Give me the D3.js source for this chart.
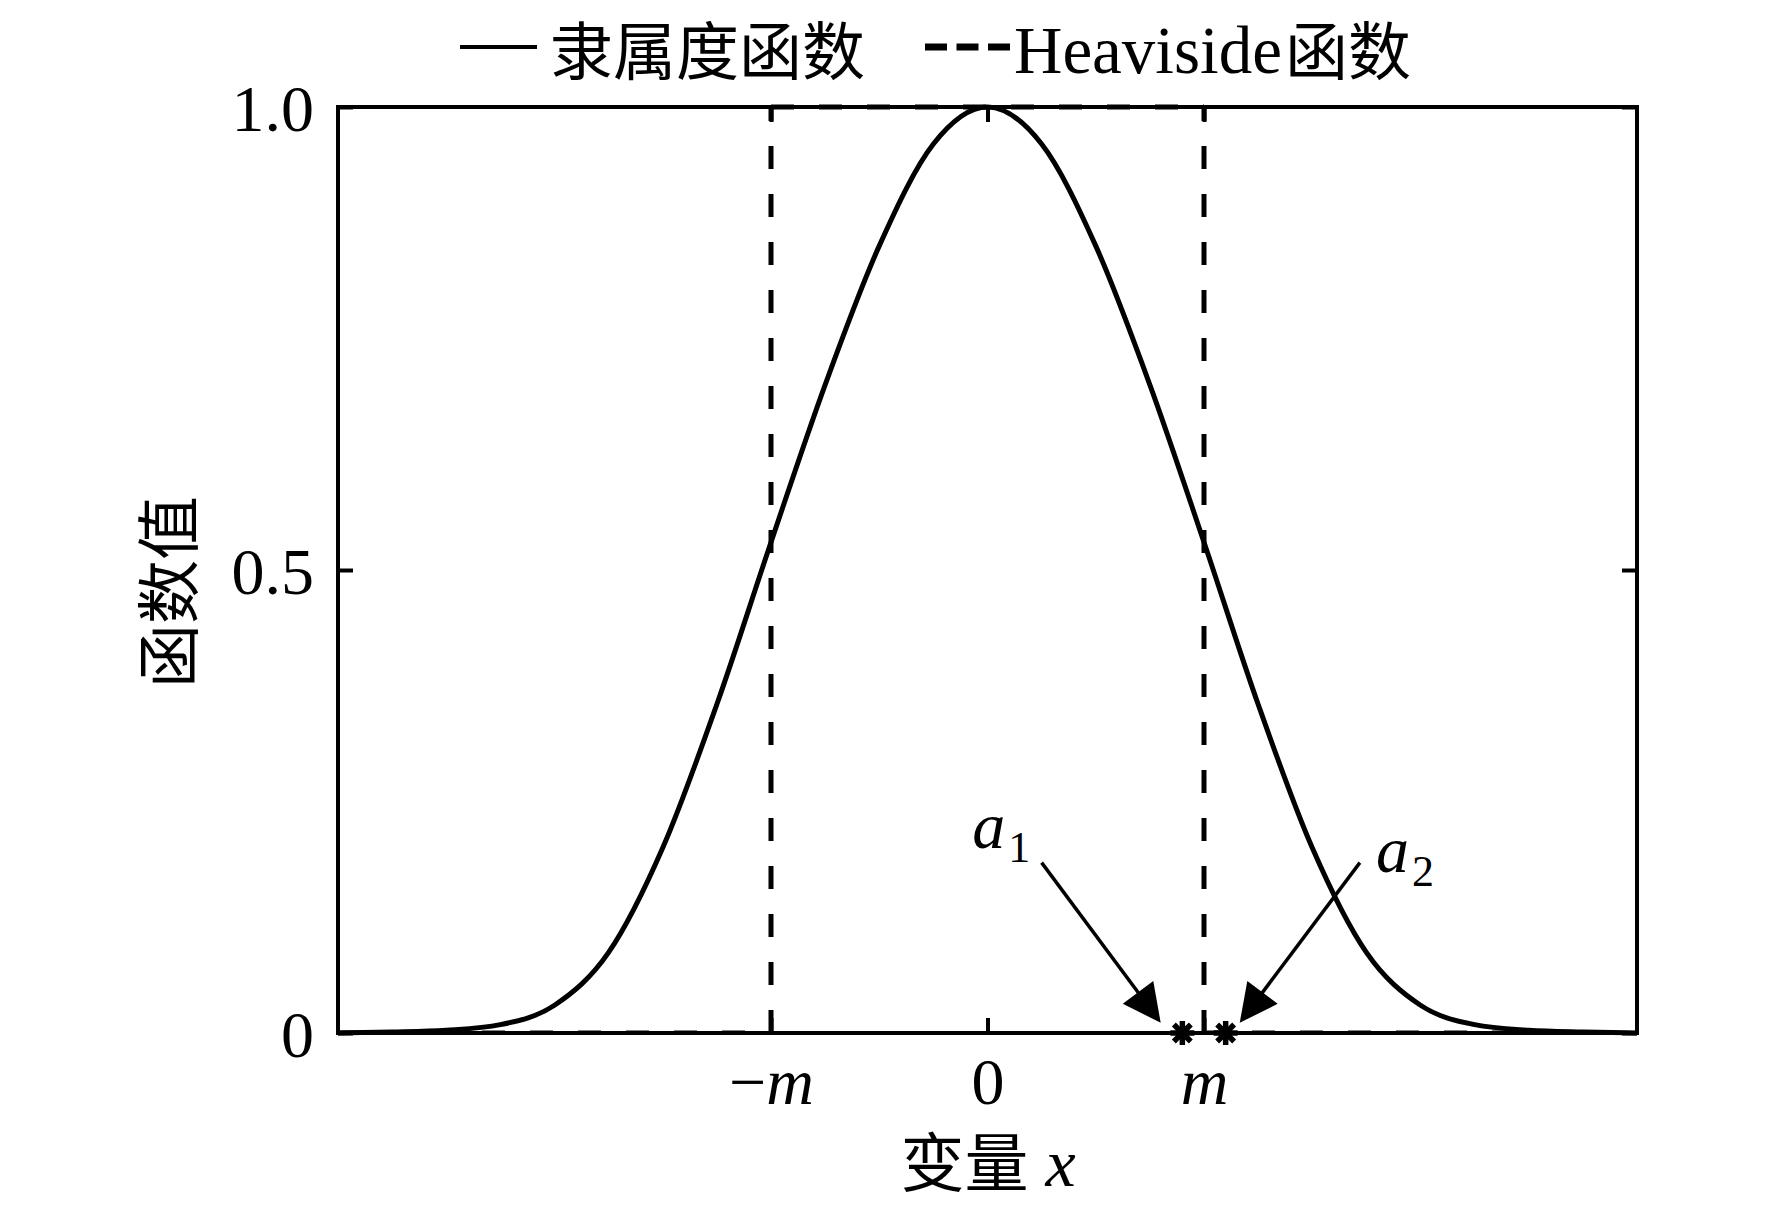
<html>
<head>
<meta charset="utf-8">
<style>
  body { margin:0; background:#fff; }
  .lat { font-family:"Liberation Serif","Times New Roman",serif; }
  .cjk { font-family:"Noto Sans CJK SC",sans-serif; }
</style>
<script src="https://cdn.jsdelivr.net/npm/d3@7"></script>
</head>
<body>
<script>
var width = 1772, height = 1205;

// membership curve (x in units of m)
var xs   = [-3,-2.75,-2.5,-2.25,-2,-1.75,-1.5,-1.25,-1,-0.75,-0.5,-0.25,0,0.25,0.5,0.75,1,1.25,1.5,1.75,2,2.25,2.5,2.75,3];
var memb = [0,0.001,0.003,0.009,0.03,0.087,0.2,0.355,0.53,0.7,0.85,0.96,1,0.96,0.85,0.7,0.53,0.355,0.2,0.087,0.03,0.009,0.003,0.001,0];
// heaviside step
var heavX = [-3,-1,-1,1,1,3];
var heavY = [0,0,1,1,0,0];
// points a1, a2 and their arrows
var ptNames = ["1","2"];
var ptX = [0.9,1.1];
var arrowFrom = [[0.25,0.184],[1.72,0.184]];
var arrowTo   = [[0.80,0.011],[1.165,0.011]];
var labelPos  = [[-0.07,0.20],[1.795,0.174]];
// ticks
var xTicks = [-1,0,1], xTickLabels = ["\u2212m","0","m"];
var yTicks = [0,0.5,1], yTickLabels = ["0","0.5","1.0"];

var svg = d3.select("body").append("svg")
    .attr("width", width).attr("height", height);
svg.append("rect").attr("width",width).attr("height",height).attr("fill","#fff");

var x = d3.scaleLinear().domain([-3,3]).range([338,1637]);
var y = d3.scaleLinear().domain([0,1]).range([1033,107]);

svg.append("clipPath").attr("id","inner").append("rect")
   .attr("x",338).attr("y",104).attr("width",1637-338).attr("height",1031-104);

// axes (ticks pointing inward)
var gx = svg.append("g").attr("transform","translate(0,1033)")
    .call(d3.axisBottom(x).tickValues(xTicks).tickSize(-15).tickPadding(24)
          .tickFormat(function(d,i){ return xTickLabels[i]; }));
var gy = svg.append("g").attr("transform","translate(338,0)")
    .call(d3.axisLeft(y).tickValues(yTicks).tickSize(-15).tickPadding(24)
          .tickFormat(function(d,i){ return yTickLabels[i]; }));
svg.append("g").attr("transform","translate(1637,0)")
    .call(d3.axisRight(y).tickValues(yTicks).tickSize(-15).tickFormat(""));
svg.append("g").attr("transform","translate(0,107)")
    .call(d3.axisTop(x).tickValues(xTicks).tickSize(-15).tickFormat(""));

svg.selectAll(".domain").remove();
svg.selectAll(".tick line").attr("stroke","#000").attr("stroke-width",4);
svg.selectAll(".tick text").attr("class","lat").attr("font-size",66).attr("fill","#000");
gy.selectAll(".tick text").attr("dy","0.36em");

// italic m in x tick labels
gx.selectAll(".tick text").each(function(d,i){
  var t = d3.select(this), s = xTickLabels[i];
  if (s.indexOf("m") < 0) return;
  t.text(null);
  if (s.charAt(0) == "\u2212") t.append("tspan").text("\u2212");
  t.append("tspan").attr("font-style","italic").text("m");
});

// heaviside (each segment dashed from its lower end)
var hg = svg.append("g").attr("clip-path","url(#inner)");
for (var i = 1; i < heavX.length; i++) {
  var p0 = [heavX[i-1],heavY[i-1]], p1 = [heavX[i],heavY[i]];
  if (p0[1] > p1[1]) { var tmp = p0; p0 = p1; p1 = tmp; }
  hg.append("line")
     .attr("x1",x(p0[0])).attr("y1",y(p0[1]))
     .attr("x2",x(p1[0])).attr("y2",y(p1[1]))
     .attr("stroke","#000").attr("stroke-width",5)
     .attr("stroke-dasharray","23,25");
}

// membership curve
var line = d3.line().x(function(d,i){ return x(xs[i]); })
                    .y(function(d){ return y(d); })
                    .curve(d3.curveMonotoneX);
svg.append("path").datum(memb).attr("d",line)
   .attr("fill","none").attr("stroke","#000").attr("stroke-width",5);

// frame
svg.append("rect").attr("x",338).attr("y",107).attr("width",1637-338).attr("height",1033-107)
   .attr("fill","none").attr("stroke","#000").attr("stroke-width",4);

// arrows
for (var k = 0; k < arrowFrom.length; k++) {
  var sx = x(arrowFrom[k][0]), sy = y(arrowFrom[k][1]);
  var tx = x(arrowTo[k][0]),   ty = y(arrowTo[k][1]);
  var dx = tx - sx, dy = ty - sy, L = Math.sqrt(dx*dx+dy*dy);
  var ux = dx/L, uy = dy/L, hl = 38, hw = 19;
  var bx = tx - ux*hl, by = ty - uy*hl;
  svg.append("line").attr("x1",sx).attr("y1",sy).attr("x2",bx+ux*4).attr("y2",by+uy*4)
     .attr("stroke","#000").attr("stroke-width",3.5);
  svg.append("path")
     .attr("d","M"+tx+","+ty+"L"+(bx-uy*hw)+","+(by+ux*hw)+"L"+(bx+uy*hw)+","+(by-ux*hw)+"Z")
     .attr("fill","#000");
}

// star markers
ptX.forEach(function(px){
  var cx = x(px), cy = y(0), r = 12;
  for (var a = 0; a < 4; a++) {
    var ang = a*Math.PI/4;
    svg.append("line")
       .attr("x1",cx-r*Math.cos(ang)).attr("y1",cy-r*Math.sin(ang))
       .attr("x2",cx+r*Math.cos(ang)).attr("y2",cy+r*Math.sin(ang))
       .attr("stroke","#000").attr("stroke-width",5.5);
  }
});

// a1, a2 labels
labelPos.forEach(function(p,i){
  var t = svg.append("text").attr("class","lat")
     .attr("x",x(p[0])).attr("y",y(p[1])).attr("font-size",66).attr("fill","#000");
  t.append("tspan").attr("font-style","italic").text("a");
  t.append("tspan").attr("font-size",44).attr("dx",3).attr("dy",14).text(ptNames[i]);
});

// axis titles
var xt = svg.append("text").attr("x",988).attr("y",1186)
   .attr("text-anchor","middle").attr("font-size",64).attr("fill","#000");
xt.append("tspan").attr("class","cjk").text("变量");
xt.append("tspan").attr("class","lat").attr("font-style","italic").attr("font-size",68).text(" x");

svg.append("text").attr("class","cjk")
   .attr("transform","translate(192,592) rotate(-90)")
   .attr("text-anchor","middle").attr("font-size",64).attr("fill","#000")
   .text("函数值");

// legend
var lg = svg.append("g");
lg.append("line").attr("x1",460).attr("x2",537).attr("y1",47).attr("y2",47)
  .attr("stroke","#000").attr("stroke-width",4);
lg.append("text").attr("class","cjk").attr("x",550).attr("y",74)
  .attr("font-size",63).text("隶属度函数");
lg.append("line").attr("x1",925).attr("x2",1010).attr("y1",47).attr("y2",47)
  .attr("stroke","#000").attr("stroke-width",7).attr("stroke-dasharray","22,9.5");
lg.append("text").attr("class","lat").attr("x",1014).attr("y",73)
  .attr("font-size",67).text("Heaviside");
lg.append("text").attr("class","cjk").attr("x",1285).attr("y",74)
  .attr("font-size",63).text("函数");
</script>
</body>
</html>
